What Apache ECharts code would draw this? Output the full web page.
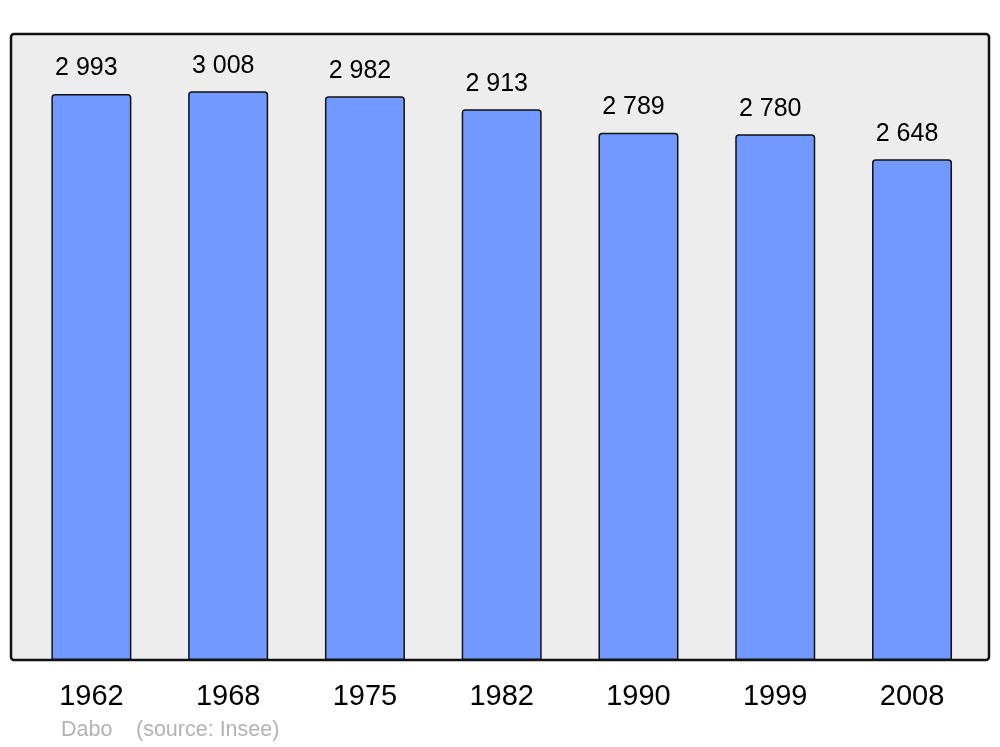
<!DOCTYPE html>
<html>
<head>
<meta charset="utf-8">
<script src="https://cdn.jsdelivr.net/npm/echarts@6/dist/echarts.min.js"></script>
<style>html,body{margin:0;padding:0;background:#fff;}#c{width:1000px;height:747px;}</style>
</head>
<body>
<div id="c"></div>
<script>
const years = ['1962', '1968', '1975', '1982', '1990', '1999', '2008'];
const population = [2993, 3008, 2982, 2913, 2789, 2780, 2648];
const footerAuthor = 'Dabo';
const footerSource = '(source: Insee)';

const fmt = v => String(v).replace(/\B(?=(\d{3})+(?!\d))/g, ' ');
const chart = echarts.init(document.getElementById('c'), null, {renderer: 'canvas'});
chart.setOption({
  animation: false,
  backgroundColor: '#ffffff',
  textStyle: {fontFamily: 'Liberation Sans, Arial, sans-serif'},
  graphic: [
    {type: 'rect', z: -10, shape: {x: 11, y: 34, width: 978, height: 626, r: 3},
     style: {fill: '#ededed', stroke: '#111111', lineWidth: 2.5}},
    {type: 'text', x: 61, y: 730, style: {text: footerAuthor, fill: '#b3b3b3', font: '21.5px "Liberation Sans", Arial, sans-serif', verticalAlign: 'middle'}},
    {type: 'text', x: 136, y: 730, style: {text: footerSource, fill: '#b3b3b3', font: '21.5px "Liberation Sans", Arial, sans-serif', verticalAlign: 'middle'}}
  ],
  grid: {left: 23, right: 19.6, top: 36, bottom: 87, containLabel: false},
  xAxis: {
    type: 'category', data: years,
    axisLine: {show: false}, axisTick: {show: false},
    axisLabel: {color: '#000', fontSize: 29, margin: 22, fontFamily: 'Liberation Sans, Arial, sans-serif'}
  },
  yAxis: {type: 'value', min: 0, max: 3300, show: false, splitLine: {show: false}},
  series: [{
    type: 'bar', data: population, barWidth: 80,
    itemStyle: {color: '#7299ff', borderColor: '#111111', borderWidth: 1.5, borderRadius: [3, 3, 0, 0]},
    label: {show: true, position: 'top', distance: 13, offset: [-5, 0], color: '#000', fontSize: 25,
            fontFamily: 'Liberation Sans, Arial, sans-serif', formatter: p => fmt(p.value)}
  }]
});
</script>
</body>
</html>
